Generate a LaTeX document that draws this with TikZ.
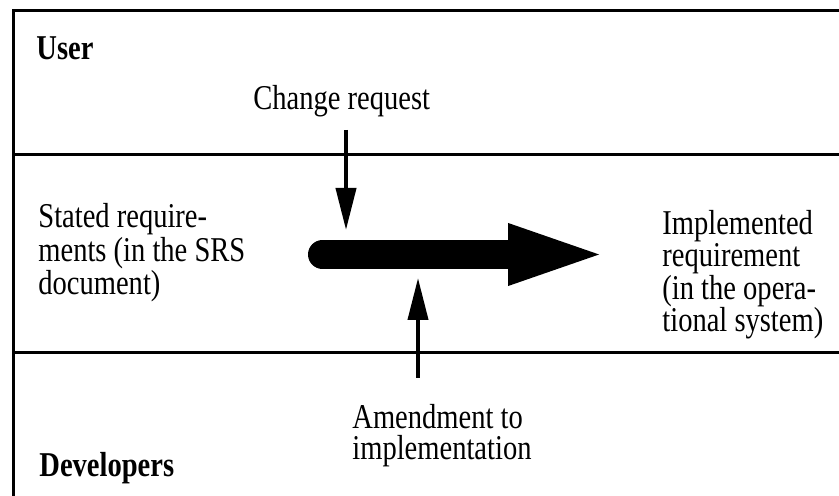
\documentclass[tikz,border=0pt]{standalone}
\usepackage{fontspec}
\setmainfont{Liberation Serif}[FakeStretch=0.82]
\usetikzlibrary{arrows.meta}
\tikzstyle{lane} = [line width=1.5pt]
\tikzstyle{label} = [inner sep=0pt, anchor=base west, align=left, font=\fontsize{17.4pt}{15.5pt}\selectfont]
\tikzstyle{actor} = [label, font=\fontsize{17.4pt}{15.5pt}\selectfont\bfseries]
\tikzstyle{thin arrow} = [line width=2pt, -{Triangle[length=21pt, width=10pt]}]
\tikzstyle{flow arrow} = [line width=14.5pt, line cap=round, -{Triangle[length=52pt, width=26.5pt]}]

\begin{document}
\begin{tikzpicture}[x=0.5pt, y=0.5pt]
            \useasboundingbox (0,0) rectangle (839,496);
            % lanes
            \draw [lane] (13,0) -- (13,485) -- (839,485);
            \draw [lane] (13,341) -- (839,341);
            \draw [lane] (13,143) -- (839,143);

            % base anchor of a multi-line label is its last line
            \node [actor] at (36,436) (user) {User};
            \node [actor] at (39,19) (dev) {Developers};
            \node [label] at (253,386) (change) {Change request};
            \node [label, font=\fontsize{17.4pt}{14.5pt}\selectfont] at (38,201) (stated) {Stated require-\\ments (in the SRS\\document)};
            \node [label, font=\fontsize{17.4pt}{16.3pt}\selectfont] at (662,164) (impl) {Implemented\\requirement\\(in the opera-\\tional system)};
            \node [label] at (352,36) (amend) {Amendment to\\implementation};

            \coordinate (chgtop) at (346,366);
            \coordinate (chgtip) at (346,266);
            \coordinate (amdbot) at (418,118);
            \coordinate (amdtip) at (418,218);
            \coordinate (flowstart) at (322.5,241.5);
            \coordinate (flowend) at (612,241.5);

            \draw [flow arrow] (flowstart) -- (flowend);
            \draw [thin arrow] (chgtop) -- (chgtip);
            \draw [thin arrow] (amdbot) -- (amdtip);
\end{tikzpicture}
\end{document}
